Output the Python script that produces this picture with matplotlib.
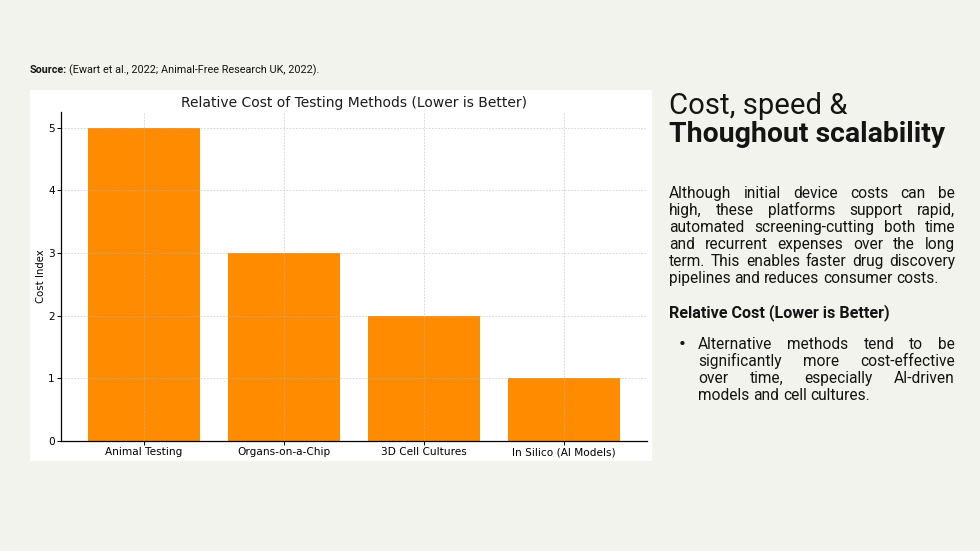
import matplotlib
matplotlib.use('Agg')
import matplotlib.pyplot as plt
from matplotlib.patches import Rectangle

# chart data
methods = ['Animal Testing', 'Organs-on-a-Chip', '3D Cell Cultures', 'In Silico (AI Models)']
cost_index = [5, 3, 2, 1]

chart_title = 'Relative Cost of Testing Methods (Lower is Better)'
source_bold = 'Source:'
source_rest = '(Ewart et al., 2022; Animal-Free Research UK, 2022).'
head1 = 'Cost, speed &'
head2 = 'Thoughout scalability'
body_lines = [
    'Although initial device costs can be',
    'high, these platforms support rapid,',
    'automated screening-cutting both time',
    'and recurrent expenses over the long',
    'term. This enables faster drug discovery',
    'pipelines and reduces consumer costs.',
]
sub_head = 'Relative Cost (Lower is Better)'
bullet_lines = [
    'Alternative methods tend to be',
    'significantly more cost-effective',
    'over time, especially AI-driven',
    'models and cell cultures.',
]

W, H = 980, 551
BG = '#f3f3ee'
INK = '#141414'
FONT = 'Roboto'

fig = plt.figure(figsize=(W / 100, H / 100), dpi=100, facecolor=BG)
renderer = fig.canvas.get_renderer()


def fx(x):
    return x / W


def fy(y):
    return 1 - y / H


# white panel behind the chart
fig.patches.append(Rectangle((fx(30), fy(461)), fx(652) - fx(30), fy(90) - fy(461),
                             transform=fig.transFigure, facecolor='white',
                             edgecolor='none', zorder=-1))

ax = fig.add_axes([fx(61), fy(441), fx(647) - fx(61), fy(112) - fy(441)])
ax.set_zorder(2)
ax.set_facecolor('white')
ax.bar(methods, cost_index, color='darkorange', width=0.8)
ax.set_title(chart_title, fontsize=10, color='#1a1a1a', pad=3.5)
ax.set_ylabel('Cost Index', fontsize=7.3, labelpad=1.5)
ax.tick_params(labelsize=7.6, width=0.7, length=3, pad=1.5)
ax.grid(True, linestyle=(0, (2.2, 1.6)), color='#b8b8b8', alpha=0.6, linewidth=0.6)
for s in ['top', 'right']:
    ax.spines[s].set_visible(False)
for s in ['left', 'bottom']:
    ax.spines[s].set_linewidth(0.9)


def width_of(t):
    return t.get_window_extent(renderer).width


def fit_text(x, y, s, target, **kw):
    t = fig.text(fx(x), fy(y), s, va='baseline', ha='left', **kw)
    fs = t.get_fontsize()
    t.set_fontsize(fs * target / width_of(t))
    return t


def justify(lines, x0, x1, y0, dy, fs, **kw):
    probe1 = fig.text(0, 0, 'a a', fontsize=fs, **kw)
    probe2 = fig.text(0, 0, 'aa', fontsize=fs, **kw)
    space = width_of(probe1) - width_of(probe2)
    probe1.remove()
    probe2.remove()
    for i, line in enumerate(lines):
        words = line.split()
        texts = [fig.text(0, 0, w, fontsize=fs, va='baseline', ha='left', **kw) for w in words]
        widths = [width_of(t) for t in texts]
        if i == len(lines) - 1 or len(words) == 1:
            gap = space
        else:
            gap = (x1 - x0 - sum(widths)) / (len(words) - 1)
        x = x0
        for t, w in zip(texts, widths):
            t.set_position((fx(x), fy(y0 + i * dy)))
            x += w + gap


# source line
sb = fit_text(30, 73, source_bold, 37, family=FONT, fontweight='bold', color=INK)
sr = fig.text(fx(30 + 39), fy(73), source_rest, va='baseline', ha='left',
              family=FONT, fontsize=sb.get_fontsize(), color=INK)
sr.set_fontsize(sr.get_fontsize() * (320 - 69) / width_of(sr))

# right-hand text
fit_text(669, 114, head1, 178, family=FONT, fontweight='normal', color=INK)
fit_text(669, 142, head2, 276, family=FONT, fontweight='bold', color=INK)

justify(body_lines, 669, 955, 198, 17, 11.2, family=FONT, color=INK)

fit_text(669, 317, sub_head, 221, family=FONT, fontweight='bold', color=INK)

fig.text(fx(679), fy(350), '\u2022', va='baseline', ha='left', fontsize=15,
         family=FONT, color=INK)
justify(bullet_lines, 698, 955, 349, 17, 11.2, family=FONT, color=INK)

fig.savefig('out.png', dpi=100, facecolor=BG)
